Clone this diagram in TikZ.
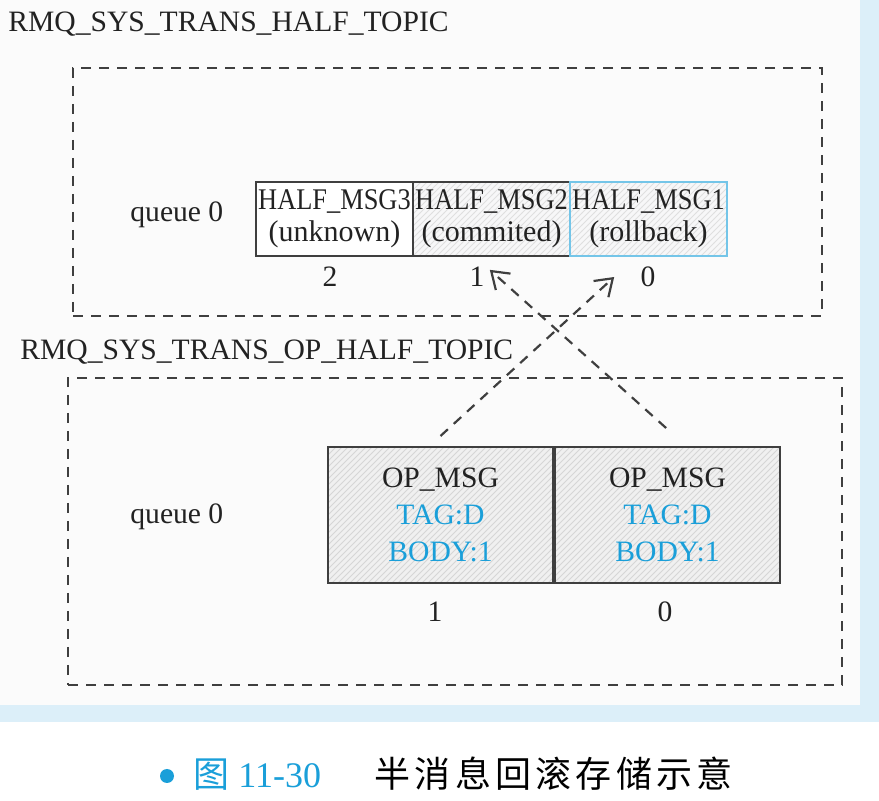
\documentclass[tikz,border=0pt]{standalone}
\usepackage{fontspec}
\setmainfont{Liberation Serif}
\newfontfamily\cjk[LetterSpace=12]{Noto Sans CJK SC}
\newfontfamily\cjkplain{Noto Sans CJK SC}
\usepackage{xcolor}
\usepackage{graphicx}
\usepackage{tikz}
\usetikzlibrary{arrows.meta, positioning, patterns}
\definecolor{msgblue}{HTML}{1A9FD9}
\definecolor{edgeblue}{HTML}{74C5E8}
\definecolor{bandblue}{HTML}{DCEFF9}
\definecolor{paper}{HTML}{FBFBFB}
\definecolor{linegray}{HTML}{3F3F3F}
\definecolor{inkgray}{HTML}{222222}
\newcommand{\squeeze}[1]{\scalebox{0.88}[1]{#1}}
\tikzstyle{topic} = [rectangle, draw=linegray, line width=1.3pt, dash pattern=on 5pt off 4pt]
\tikzstyle{toptext} = [inner sep=0pt, text=inkgray, font=\fontsize{14.8}{17}\selectfont]
\tikzstyle{idxnum} = [inner sep=0pt, text=inkgray, font=\fontsize{14.8}{17}\selectfont]
\tikzstyle{halfmsg} = [rectangle, minimum width=78.5pt, minimum height=37pt, inner sep=0pt, outer sep=0pt, draw=linegray, line width=1pt, align=center, text=inkgray, font=\fontsize{15}{16}\selectfont]
\tikzstyle{opmsg} = [rectangle, minimum width=112.5pt, minimum height=68pt, inner sep=0pt, outer sep=0pt, draw=linegray, line width=1pt, align=center, text=inkgray, font=\fontsize{14.8}{18.5}\selectfont]
\tikzstyle{hatchblue} = [preaction={fill=blue!3!gray!6}, pattern=north east lines, pattern color=gray!25]
\tikzstyle{hatchgray} = [preaction={fill=gray!12}, pattern=north east lines, pattern color=gray!32]
\tikzstyle{arrow} = [line width=1.1pt, draw=linegray, dash pattern=on 5pt off 4pt, -{Straight Barb[length=8pt,width=11pt]}]

\begin{document}
\begin{tikzpicture}[x=0.5pt, y=-0.5pt, node distance=0pt]
    % Page background
    \fill[bandblue] (0,0) rectangle (879,722);
    \fill[paper] (0,0) rectangle (860,705);
    \useasboundingbox (0,0) rectangle (879,801);

    % Half topic
    \node[topic, minimum width=374.5pt, minimum height=124pt] (halftopic) at (447.5,192) {};
    \node[toptext, anchor=base west] (halfname) at (8,32) {RMQ\_SYS\_TRANS\_HALF\_TOPIC};
    \node[toptext, anchor=base west] (halfqueue) at (130,222) {queue 0};
    \node[halfmsg, fill=white] (half3) at (334.5,219) {\squeeze{HALF\_MSG3}\\(unknown)};
    \node[halfmsg, hatchblue, right=of half3] (half2) {\squeeze{HALF\_MSG2}\\(commited)};
    \node[halfmsg, hatchblue, draw=edgeblue, right=of half2] (half1) {\squeeze{HALF\_MSG1}\\(rollback)};
    \node[idxnum] (idx3) at (330,277) {2};
    \node[idxnum] (idx2) at (477,277) {1};
    \node[idxnum] (idx1) at (648,277) {0};

    % Op half topic
    \node[topic, minimum width=387pt, minimum height=153.5pt] (optopic) at (455,531.5) {};
    \node[toptext, anchor=base west] (opname) at (20,360) {RMQ\_SYS\_TRANS\_OP\_HALF\_TOPIC};
    \node[toptext, anchor=base west] (opqueue) at (130,524) {queue 0};
    \node[opmsg, hatchgray] (op1) at (440.5,515) {OP\_MSG\\\textcolor{msgblue}{TAG:D}\\\textcolor{msgblue}{BODY:1}};
    \node[opmsg, hatchgray, right=1pt of op1] (op0) {OP\_MSG\\\textcolor{msgblue}{TAG:D}\\\textcolor{msgblue}{BODY:1}};
    \node[idxnum] (idxop1) at (435,612) {1};
    \node[idxnum] (idxop0) at (665,612) {0};

    % Connections
    \draw[arrow] ([yshift=5.5pt]op1.north) -- ([xshift=-13pt]idx1.west);
    \draw[arrow] ([xshift=-0.7pt,yshift=9.5pt]op0.north) -- ([xshift=2.5pt,yshift=-1.5pt]idx2.north east);

    % Caption
    \node[circle, fill=msgblue, inner sep=0pt, minimum size=7pt] (dot) at (167,776) {};
    \node[anchor=base west, inner sep=0pt, text=msgblue, font=\fontsize{18}{20}\selectfont] (fignum) at (193,788) {{\cjkplain 图} 11-30};
    \node[anchor=base west, inner sep=0pt, text=black, font=\fontsize{18}{20}\selectfont\cjk] (figtitle) at (374,788) {半消息回滚存储示意};
\end{tikzpicture}
\end{document}
